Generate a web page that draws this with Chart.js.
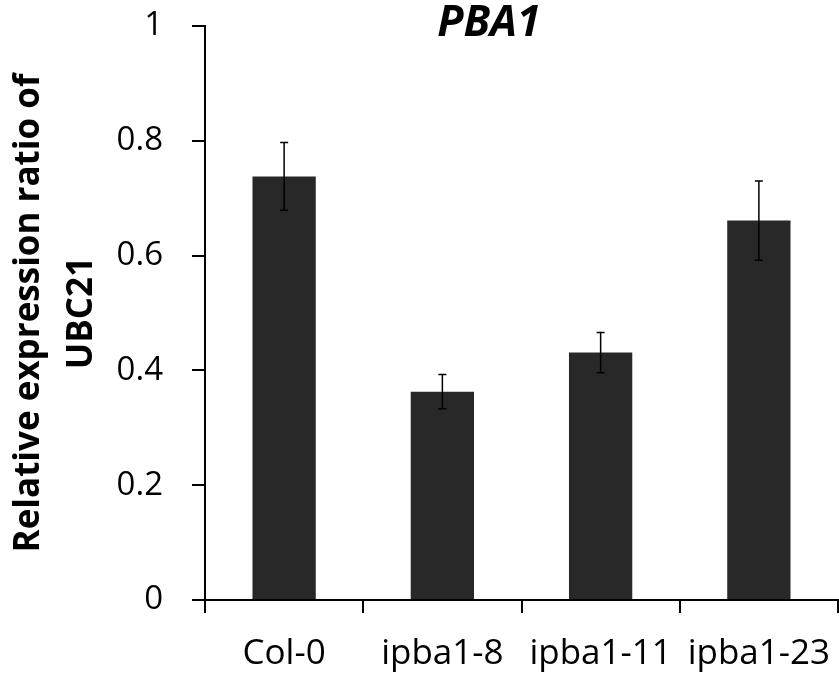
<!DOCTYPE html>
<html>
<head>
<meta charset="utf-8">
<script src="https://cdn.jsdelivr.net/npm/chart.js@4"></script>
<style>
  html, body { margin: 0; padding: 0; background: #fff; }
  #wrap { position: relative; width: 839px; height: 676px; }
</style>
</head>
<body>
<div id="wrap"><canvas id="pbaChart"></canvas></div>
<script>
const categories = ['Col-0', 'ipba1-8', 'ipba1-11', 'ipba1-23'];
const expression = [0.738, 0.363, 0.431, 0.661];
const errors = [0.059, 0.030, 0.035, 0.069];
const chartTitle = 'PBA1';
const yTitle = ['Relative expression ratio of', 'UBC21'];

// error bars drawn from the y scale
const errorBars = {
    id: 'errorBars',
    afterDatasetsDraw(chart) {
        const ctx = chart.ctx;
        const y = chart.scales.y;
        const meta = chart.getDatasetMeta(0);
        ctx.save();
        ctx.strokeStyle = '#000';
        ctx.lineWidth = 1.5;
        meta.data.forEach((bar, i) => {
            const top = y.getPixelForValue(expression[i] + errors[i]);
            const bot = y.getPixelForValue(expression[i] - errors[i]);
            ctx.beginPath();
            ctx.moveTo(bar.x, top);
            ctx.lineTo(bar.x, bot);
            ctx.moveTo(bar.x - 4, top);
            ctx.lineTo(bar.x + 4, top);
            ctx.moveTo(bar.x - 4, bot);
            ctx.lineTo(bar.x + 4, bot);
            ctx.stroke();
        });
        ctx.restore();
    }
};

// italic title sits beside the top of the axis, not above the plot
const topTitle = {
    id: 'topTitle',
    afterDraw(chart) {
        const ctx = chart.ctx;
        ctx.save();
        ctx.font = 'italic bold 43px "Open Sans"';
        ctx.fillStyle = '#000';
        ctx.textAlign = 'center';
        ctx.textBaseline = 'middle';
        ctx.fillText(chartTitle, 489, 24);
        ctx.restore();
    }
};

new Chart(document.getElementById('pbaChart').getContext('2d'), {
    type: 'bar',
    data: {
        labels: categories,
        datasets: [{
            data: expression,
            backgroundColor: '#282828',
            borderWidth: 0,
            categoryPercentage: 1,
            barPercentage: 0.4
        }]
    },
    options: {
        responsive: true,
        maintainAspectRatio: false,
        animation: false,
        layout: { padding: { top: 26, right: 1, bottom: 0, left: 0 } },
        plugins: {
            legend: { display: false },
            tooltip: { enabled: false },
            title: { display: false }
        },
        scales: {
            x: {
                grid: { drawOnChartArea: false, color: '#000', lineWidth: 2, tickLength: 13, offset: true },
                border: { color: '#000', width: 2 },
                ticks: { color: '#000', padding: 20, font: { family: 'Open Sans', size: 35 }, maxRotation: 0 },
                afterFit(scale) {
                    scale.height = 76;
                    scale.paddingLeft = 0;
                    scale.paddingRight = 0;
                }
            },
            y: {
                min: 0,
                max: 1,
                grid: { drawOnChartArea: false, color: '#000', lineWidth: 2, tickLength: 13 },
                border: { color: '#000', width: 2 },
                ticks: {
                    stepSize: 0.2,
                    color: '#000',
                    padding: 29,
                    font: { family: 'Open Sans', size: 33 },
                    callback: (v) => String(Math.round(v * 10) / 10)
                },
                title: {
                    display: true,
                    text: yTitle,
                    color: '#000',
                    font: { family: 'Open Sans', size: 35, weight: 'bold', lineHeight: 1.5 },
                    padding: { top: 3, bottom: 0 }
                },
                afterFit(scale) {
                    scale.width = 205;
                    scale.paddingTop = 0;
                    scale.paddingBottom = 0;
                }
            }
        }
    },
    plugins: [errorBars, topTitle]
});
</script>
</body>
</html>
